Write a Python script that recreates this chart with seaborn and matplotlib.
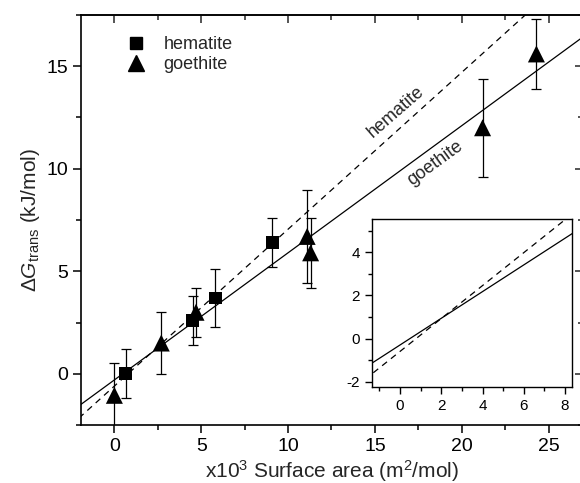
import numpy as np
import pandas as pd
import matplotlib
matplotlib.use("Agg")
import matplotlib.pyplot as plt
import seaborn as sns
from matplotlib.ticker import MultipleLocator
from matplotlib.lines import Line2D

# data
hem_x = [0.65, 4.5, 5.8, 9.1]
hem_y = [0.0, 2.6, 3.7, 6.4]
hem_err = [1.2, 1.2, 1.4, 1.2]

goe_x = [0.0, 2.7, 4.7, 11.1, 11.3, 21.2, 24.3]
goe_y = [-1.05, 1.5, 3.0, 6.7, 5.9, 12.0, 15.6]
goe_err = [1.6, 1.5, 1.2, 2.25, 1.7, 2.4, 1.7]

# linear fits (slope, intercept)
hem_fit = (0.765, -0.6)
goe_fit = (0.62, -0.3)
fit_x = [-3.0, 30.0]

sns.set_theme(style="ticks")
plt.rcParams['font.family'] = ['Liberation Sans', 'DejaVu Sans']
plt.rcParams['mathtext.fontset'] = 'custom'
plt.rcParams['mathtext.rm'] = 'Liberation Sans'
plt.rcParams['mathtext.it'] = 'Liberation Sans:italic'
plt.rcParams['axes.unicode_minus'] = False

hem_df = pd.DataFrame({"x": hem_x, "y": hem_y})
goe_df = pd.DataFrame({"x": goe_x, "y": goe_y})
line_df = pd.DataFrame({
    "x": fit_x * 2,
    "y": [hem_fit[0] * v + hem_fit[1] for v in fit_x] + [goe_fit[0] * v + goe_fit[1] for v in fit_x],
    "mineral": ["hematite"] * 2 + ["goethite"] * 2,
})

fig = plt.figure(figsize=(5.8, 4.83), dpi=100)
ax = fig.add_axes([0.1397, 0.12, 0.866, 0.849])

# fit lines
sns.lineplot(data=line_df, x="x", y="y", style="mineral", color="black", lw=0.9,
             dashes={"hematite": (5, 4), "goethite": ""}, legend=False, ax=ax)

# error bars
ax.errorbar(hem_x, hem_y, yerr=hem_err, fmt="none", ecolor="black", elinewidth=0.9, capsize=3.5, capthick=0.9)
ax.errorbar(goe_x, goe_y, yerr=goe_err, fmt="none", ecolor="black", elinewidth=0.9, capsize=3.5, capthick=0.9)

# markers
sns.scatterplot(data=hem_df, x="x", y="y", marker="s", s=85, color="black",
                edgecolor="none", ax=ax, zorder=5)
sns.scatterplot(data=goe_df, x="x", y="y", marker="^", s=150, color="black",
                edgecolor="none", ax=ax, zorder=5)

ax.set_xlim(-1.92, 27.0)
ax.set_ylim(-2.5, 17.5)
ax.xaxis.set_major_locator(MultipleLocator(5))
ax.xaxis.set_minor_locator(MultipleLocator(2.5))
ax.yaxis.set_major_locator(MultipleLocator(5))
ax.yaxis.set_minor_locator(MultipleLocator(2.5))
ax.tick_params(which="both", direction="out", width=1.1, labelsize=14, colors="black")
ax.tick_params(which="major", length=6)
ax.tick_params(which="minor", length=3.5)
for sp in ax.spines.values():
    sp.set_linewidth(1.2)
    sp.set_color("black")
    sp.set_visible(True)

# inward ticks on top and right
top = ax.secondary_xaxis("top")
top.xaxis.set_major_locator(MultipleLocator(5))
top.xaxis.set_minor_locator(MultipleLocator(2.5))
top.tick_params(which="both", direction="in", width=1.1, labeltop=False)
top.tick_params(which="major", length=6)
top.tick_params(which="minor", length=3.5)
right = ax.secondary_yaxis("right")
right.yaxis.set_major_locator(MultipleLocator(5))
right.yaxis.set_minor_locator(MultipleLocator(2.5))
right.tick_params(which="both", direction="in", width=1.1, labelright=False)
right.tick_params(which="major", length=6)
right.tick_params(which="minor", length=3.5)

ax.set_xlabel(r"x10$^3$ Surface area (m$^2$/mol)", fontsize=15, labelpad=2)
ax.set_ylabel(r"$\Delta G_{\mathrm{trans}}$ (kJ/mol)", fontsize=15, labelpad=3)

# line labels
ax.text(16.2, 12.75, "hematite", rotation=41, fontsize=13, ha="center", va="center", rotation_mode="anchor")
ax.text(18.5, 10.25, "goethite", rotation=36, fontsize=13, ha="center", va="center", rotation_mode="anchor")

handles = [Line2D([], [], ls="none", marker="s", color="black", markersize=8),
           Line2D([], [], ls="none", marker="^", color="black", markersize=11)]
ax.legend(handles, ["hematite", "goethite"], loc="upper left", bbox_to_anchor=(0.06, 0.966),
          frameon=False, fontsize=13, handletextpad=0.5, labelspacing=0.15, borderaxespad=0)

# inset
ins = fig.add_axes([0.641, 0.198, 0.346, 0.348])
sns.lineplot(data=line_df, x="x", y="y", style="mineral", color="black", lw=0.9,
             dashes={"hematite": (5, 4), "goethite": ""}, legend=False, ax=ins)
ins.set_xlim(-1.37, 8.36)
ins.set_ylim(-2.27, 5.54)
ins.xaxis.set_major_locator(MultipleLocator(2))
ins.xaxis.set_minor_locator(MultipleLocator(1))
ins.yaxis.set_major_locator(MultipleLocator(2))
ins.yaxis.set_minor_locator(MultipleLocator(1))
ins.tick_params(which="both", direction="out", width=1.0, labelsize=11, colors="black")
ins.tick_params(which="major", length=5)
ins.tick_params(which="minor", length=3)
ins.set_xlabel("")
ins.set_ylabel("")
for sp in ins.spines.values():
    sp.set_linewidth(1.0)
    sp.set_color("black")
    sp.set_visible(True)

fig.savefig("out.png", dpi=100)
